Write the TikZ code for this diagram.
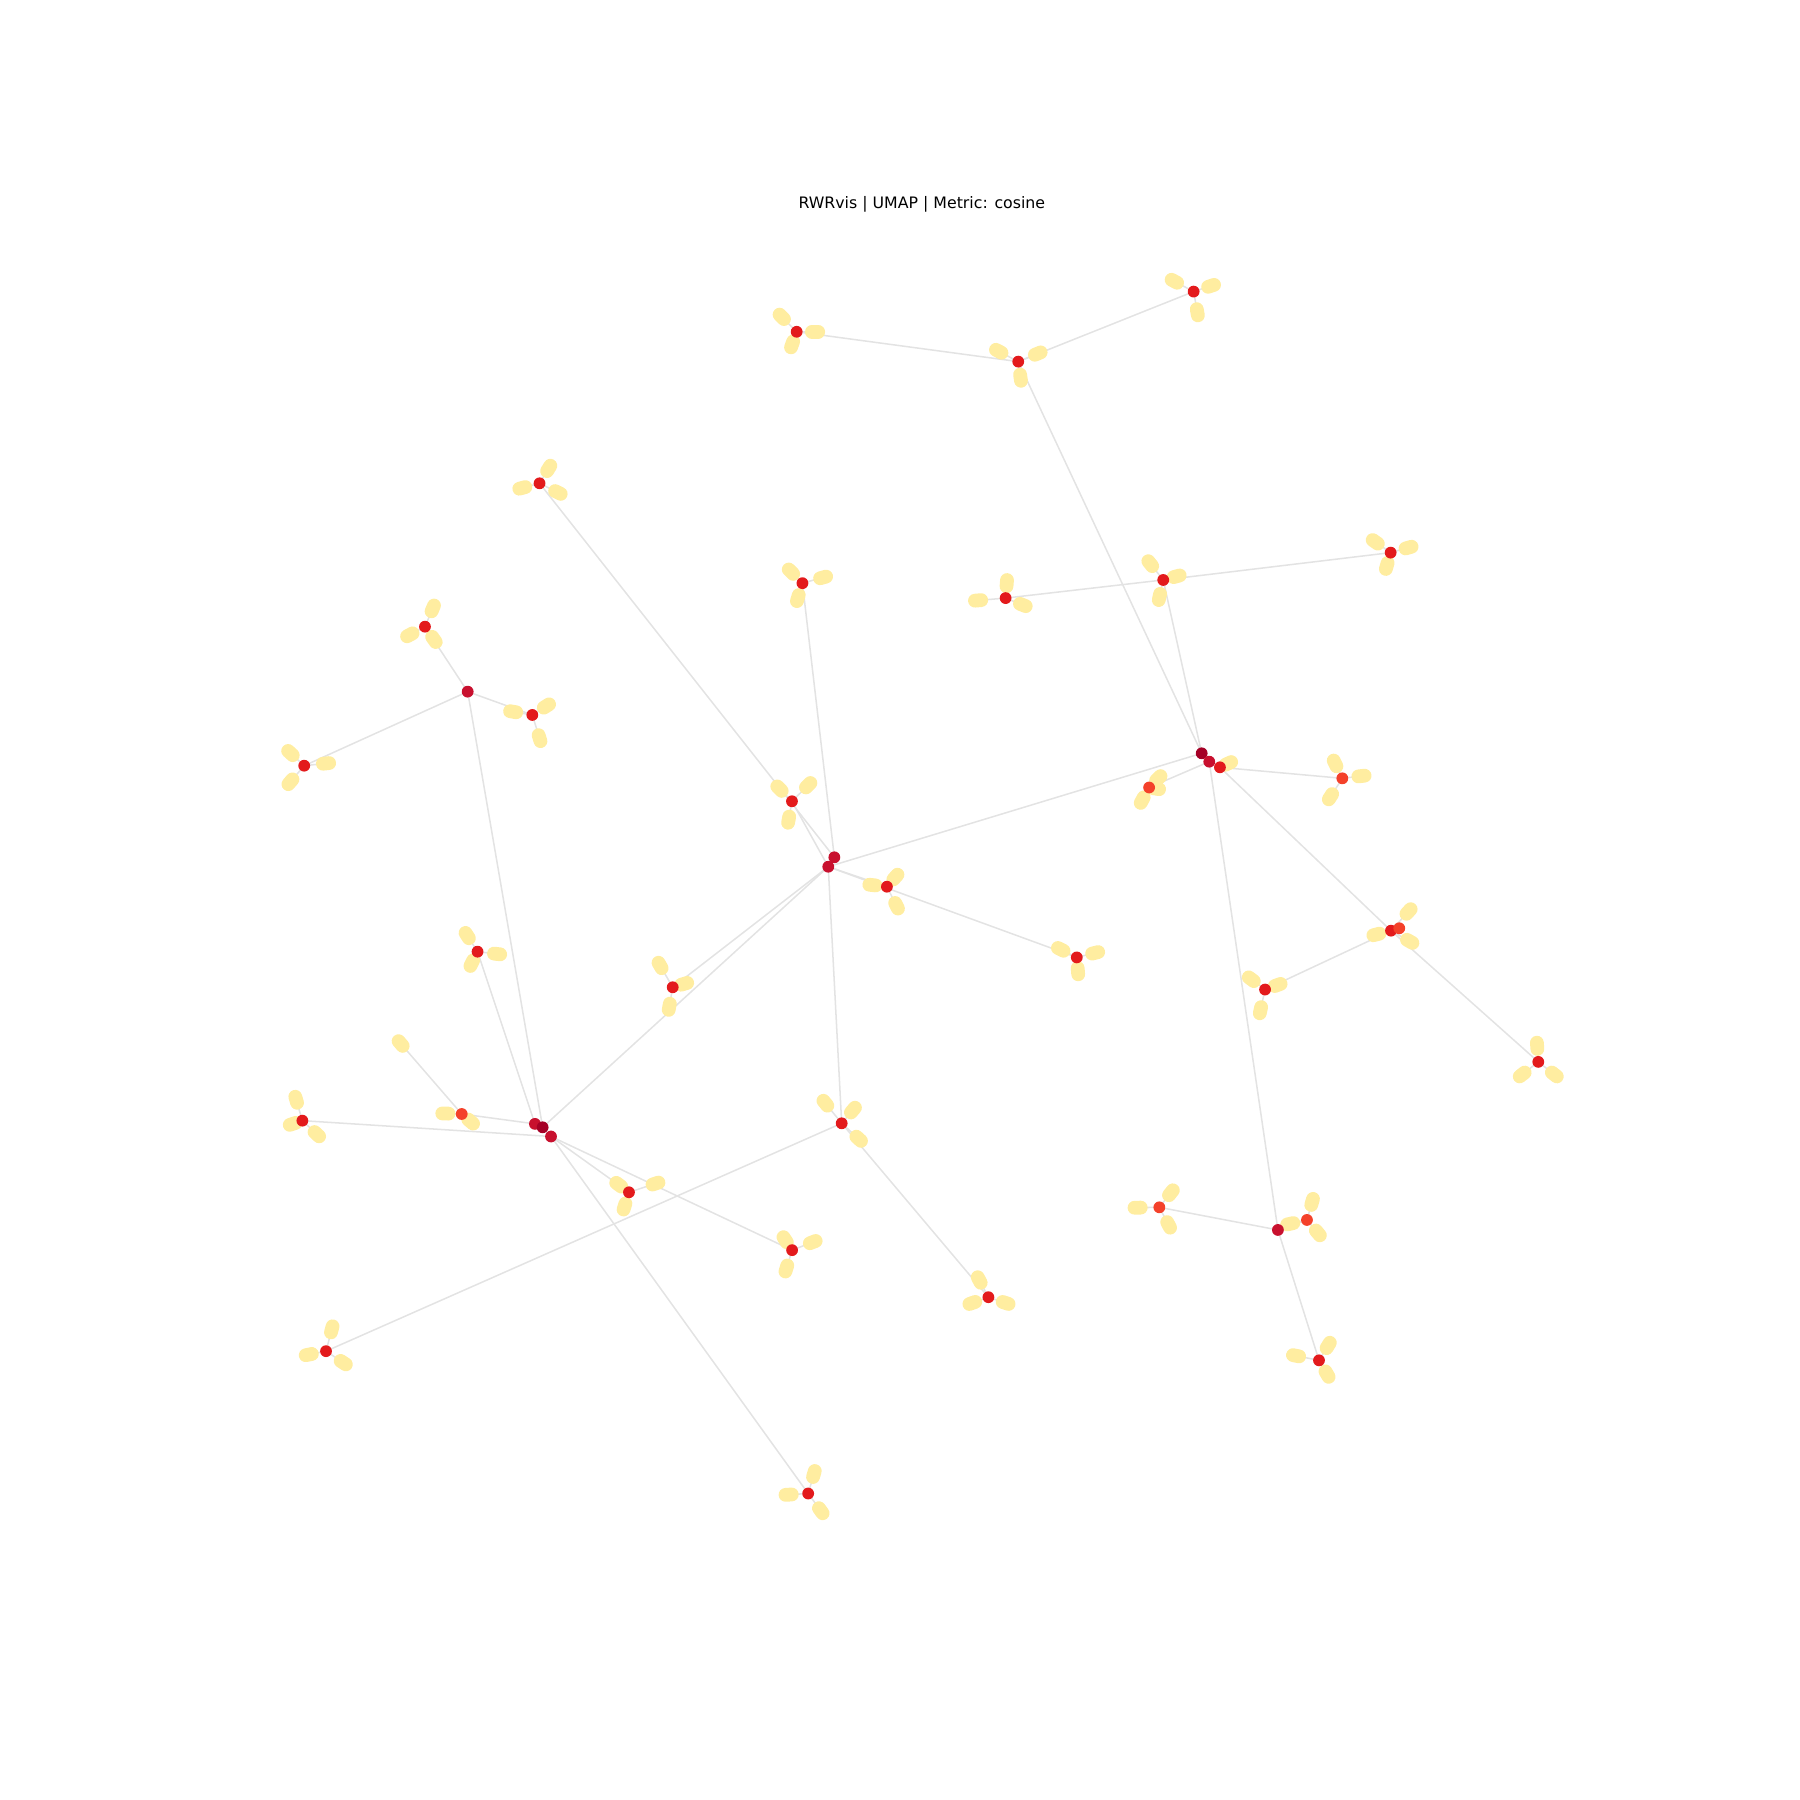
\documentclass[tikz,border=0pt]{standalone}
\usepackage{fontspec}
\setmainfont{DejaVu Sans}
\usetikzlibrary{calc}
\definecolor{edgegray}{HTML}{E3E3E3}
\definecolor{blobyellow}{HTML}{FFEDA0}
\definecolor{darkred}{HTML}{A50026}
\definecolor{hubred}{HTML}{C8102E}
\definecolor{ptred}{HTML}{E31A1C}
\definecolor{orred}{HTML}{F4412A}
\tikzset{
  edge/.style={draw=edgegray, line width=1.1pt},
  blob/.style={draw=blobyellow, line width=3.5mm, line cap=round},
}
% cluster centre / leaf / x / y
\def\bloblist{L1/L1-1/681/276, L1/L1-2/710/289, L1/L1-3/690/300,
  L2/L2-1/1023/245, L2/L2-2/1055/249, L2/L2-3/1043/272,
  H5/H5-1/870/306, H5/H5-2/904/308, H5/H5-3/889/329,
  L4/L4-1/455/425, L4/L4-2/478/408, L4/L4-3/486/429,
  L5/L5-1/689/498, L5/L5-2/717/503, L5/L5-3/695/521,
  L6/L6-1/852/523, L6/L6-2/877/508, L6/L6-3/891/527,
  H6/H6-1/1002/491, H6/H6-2/1025/502, H6/H6-3/1010/520,
  L8/L8-1/1198/472, L8/L8-2/1227/477, L8/L8-3/1208/493,
  L9/L9-1/377/530, L9/L9-2/357/553, L9/L9-3/378/557,
  L10/L10-1/447/620, L10/L10-2/476/615, L10/L10-3/470/643,
  L11/L11-1/253/656, L11/L11-2/284/665, L11/L11-3/253/681,
  L12/L12-1/679/687, L12/L12-2/704/684, L12/L12-3/687/714,
  L13/L13-1/1009/678, L13/L13-2/1007/687, L13/L13-3/995/697,
  H2c/H2-1/1070/665,
  L14/L14-1/1163/665, L14/L14-2/1186/676, L14/L14-3/1159/694,
  L15/L15-1/760/771, L15/L15-2/780/764, L15/L15-3/781/789,
  L16/L16-1/924/827, L16/L16-2/954/830, L16/L16-3/939/846,
  L17/L17-1/407/815, L17/L17-2/433/831, L17/L17-3/411/839,
  L18/L18-1/575/841, L18/L18-2/596/857, L18/L18-3/583/877,
  L19/L19-1/1090/853, L19/L19-2/1113/858, L19/L19-3/1098/880,
  H9/H9-1/1199/814, H9/H9-2/1227/794, H9/H9-3/1228/820,
  L21/L21-1/1339/911, L21/L21-2/1326/936, L21/L21-3/1354/936,
  L22/L22-1/258/958, L22/L22-2/255/979, L22/L22-3/276/988,
  L23/L23-1/388/970, L23/L23-2/410/977, L23/L23-3/349/909,
  L24/L24-1/539/1032, L24/L24-2/571/1031, L24/L24-3/544/1051,
  H7/H7-1/719/961, H7/H7-2/743/967, H7/H7-3/748/992,
  L26/L26-1/684/1080, L26/L26-2/708/1082, L26/L26-3/685/1105,
  L27/L27-1/991/1052, L27/L27-2/1020/1039, L27/L27-3/1018/1067,
  L28/L28-1/1124/1066, L28/L28-2/1143/1047, L28/L28-3/1148/1074,
  L29/L29-1/853/1115, L29/L29-2/847/1135, L29/L29-3/876/1135,
  L30/L30-1/269/1180, L30/L30-2/289/1158, L30/L30-3/299/1187,
  L31/L31-1/1129/1181, L31/L31-2/1157/1172, L31/L31-3/1156/1197,
  L32/L32-1/687/1302, L32/L32-2/709/1284, L32/L32-3/715/1316}

\begin{document}
\begin{tikzpicture}[x=0.02916cm, y=-0.02916cm]
\useasboundingbox (0,0) rectangle (1568,1568);
\node[font=\fontsize{11.4}{14}\selectfont] (title) at (803,178) {RWRvis | UMAP | Metric: cosine};

% centres
\foreach \n/\x/\y in {H1a/726.8/746.8, H1b/721.5/755, H2a/1046.8/656.2,
    H2b/1053.4/663.5, H2c/1062.7/668.4, H3a/466/979, H3b/472.7/982,
    H3c/480/990, H4/407.4/602.5, H5/887/315, H6/1013.3/505.2,
    H7/733.2/978.5, H8/1113.2/1071.4, H9/1211.7/810.7, H9b/1218.9/808.6,
    L1/694/289, L2/1039.8/254, L4/470/421, L5/699/508, L6/876/521,
    L8/1211.4/481.4, L9/370.2/545.9, L10/463.7/622.8, L11/265/667,
    L12/689.9/698, L13/1001/686, L14/1169.3/678, L15/772.6/772.4,
    L16/938/834, L17/416/829, L18/586/860, L19/1102/862, L21/1340/925,
    L22/263.4/976.2, L23/402.2/970.4, L24/547.9/1038.6, L26/690/1089,
    L27/1009.9/1051.7, L28/1138.5/1062.7, L29/861/1130, L30/284/1177,
    L31/1149/1185, L32/704/1301}
  \coordinate (\n) at (\x,\y);

% links
\draw[edge] (H5) -- (L1);
\draw[edge] (H5) -- (L2);
\draw[edge] (H5) -- (H2a);
\draw[edge] (H6) -- (L6);
\draw[edge] (H6) -- (L8);
\draw[edge] (H6) -- (H2a);
\draw[edge] (H1b) -- (H2a);
\draw[edge] (H2b) -- (L13);
\draw[edge] (H2c) -- (L14);
\draw[edge] (H2b) -- (H8);
\draw[edge] (H2c) -- (H9);
\draw[edge] (H9) -- (L19);
\draw[edge] (H9) -- (L21);
\draw[edge] (H4) -- (L9);
\draw[edge] (H4) -- (L10);
\draw[edge] (H4) -- (L11);
\draw[edge] (H4) -- (H3b);
\draw[edge] (H1a) -- (L4);
\draw[edge] (H1a) -- (L5);
\draw[edge] (H1b) -- (L12);
\draw[edge] (H1b) -- (L15);
\draw[edge] (H1b) -- (L16);
\draw[edge] (H1b) -- (L18);
\draw[edge] (H1b) -- (H3b);
\draw[edge] (H1b) -- (H7);
\draw[edge] (H3a) -- (L17);
\draw[edge] (H3a) -- (L23);
\draw[edge] (H3c) -- (L22);
\draw[edge] (H3c) -- (L24);
\draw[edge] (H3c) -- (L26);
\draw[edge] (H3c) -- (L32);
\draw[edge] (H7) -- (L30);
\draw[edge] (H7) -- (L29);
\draw[edge] (H8) -- (L27);
\draw[edge] (H8) -- (L28);
\draw[edge] (H8) -- (L31);

% leaves
\foreach \c/\b/\x/\y in \bloblist {
  \coordinate (\b) at (\x,\y);
  \draw[edge] (\c) -- (\b);
}
\foreach \c/\b/\x/\y in \bloblist
  \draw[blob] ($(\b)!0.8mm!(\c)$) -- ($(\b)!-0.8mm!(\c)$);

% dots
\foreach \n/\col in {H1a/hubred, H1b/hubred, H2a/darkred, H2b/hubred,
    H2c/ptred, H3a/hubred, H3b/darkred, H3c/hubred, H4/hubred, H5/ptred,
    H6/ptred, H7/ptred, H8/hubred, H9/ptred, H9b/orred, L1/ptred,
    L2/ptred, L4/ptred, L5/ptred, L6/ptred, L8/ptred, L9/ptred,
    L10/ptred, L11/ptred, L12/ptred, L13/orred, L14/orred, L15/ptred,
    L16/ptred, L17/ptred, L18/ptred, L19/ptred, L21/ptred, L22/ptred,
    L23/orred, L24/ptred, L26/ptred, L27/orred, L28/orred, L29/ptred,
    L30/ptred, L31/ptred, L32/ptred}
  \fill[\col] (\n) circle (1.5mm);
\end{tikzpicture}
\end{document}
